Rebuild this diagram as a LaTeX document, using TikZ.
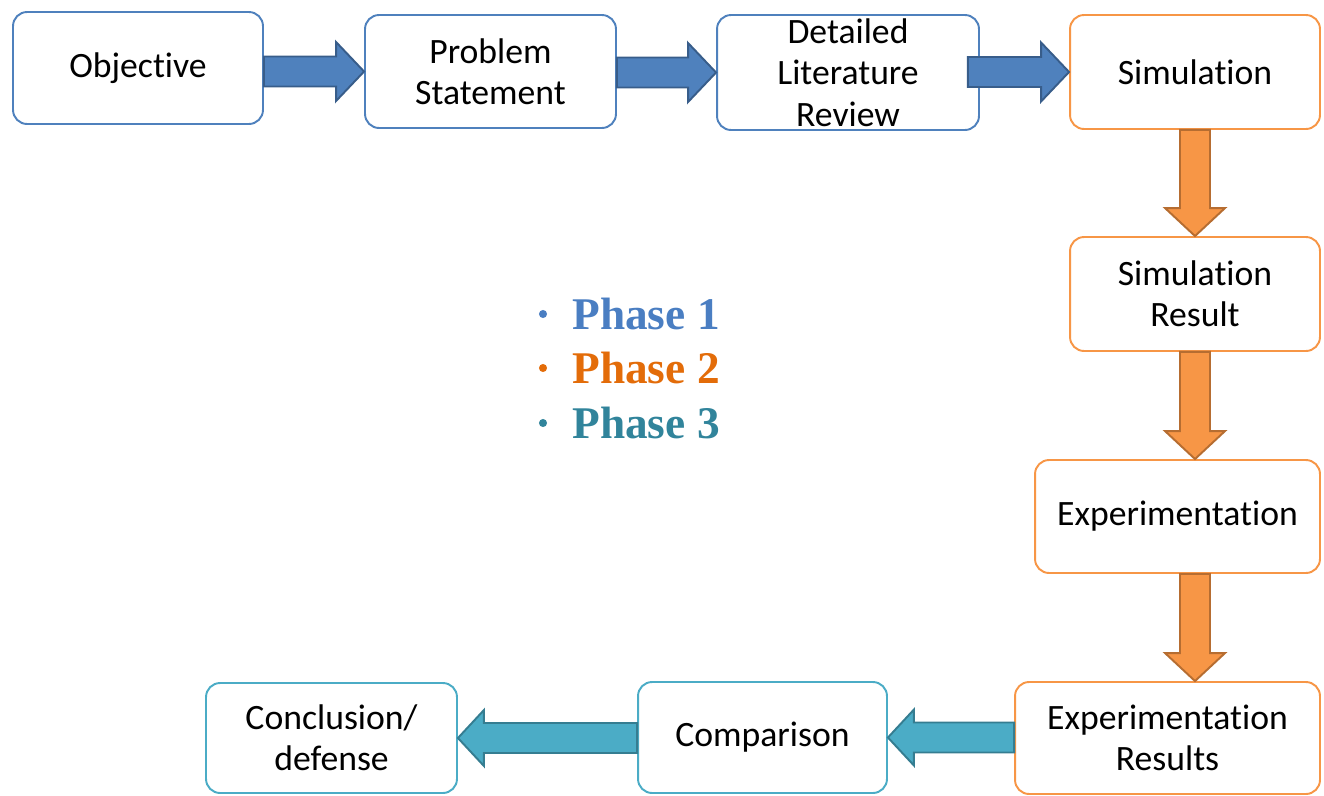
\documentclass[tikz,border=0pt]{standalone}
\usepackage{fontspec}
\setmainfont{Carlito}[Ligatures=NoCommon]
\newfontfamily\phasefont{Liberation Serif}
\usetikzlibrary{calc}
\definecolor{pblue}{HTML}{4F81BD}
\definecolor{pbluedark}{HTML}{385D8A}
\definecolor{porange}{HTML}{F79646}
\definecolor{porangedark}{HTML}{B66D31}
\definecolor{pteal}{HTML}{4BACC6}
\definecolor{ptealdark}{HTML}{357D91}
\definecolor{phaseone}{HTML}{4A7EC2}
\definecolor{phasetwo}{HTML}{E36C09}
\definecolor{phasethree}{HTML}{31849B}

\begin{document}
\begin{tikzpicture}[x=0.02cm,y=-0.02cm,
    box/.style={draw, rounded corners=8pt, line width=1.1pt, fill=white, align=center, inner sep=0pt,
        font=\fontsize{20.3}{23.5}\selectfont},
    boxB/.style={box, draw=pblue},
    boxO/.style={box, draw=porange},
    boxT/.style={box, draw=pteal},
    arrowB/.style={fill=pblue, draw=pbluedark, line width=1.1pt},
    arrowO/.style={fill=porange, draw=porangedark, line width=1.1pt},
    arrowT/.style={fill=pteal, draw=ptealdark, line width=1.1pt},
    phase/.style={anchor=base west, inner sep=0pt, font=\phasefont\bfseries\fontsize{25.8}{30}\selectfont}]
\useasboundingbox (0,0) rectangle (1324,795);

\node[boxB, minimum width=5cm, minimum height=2.24cm] (obj) at (138,68) {Objective};
\node[boxB, minimum width=5.02cm, minimum height=2.26cm] (prob) at (490.5,71.5) {Problem\\Statement};
\node[boxB, minimum width=5.24cm, minimum height=2.3cm] (lit) at (848,72.5) {Detailed\\Literature\\Review};
\node[boxO, minimum width=5cm, minimum height=2.28cm] (sim) at (1195,72) {Simulation};
\node[boxO, minimum width=5cm, minimum height=2.28cm] (simres) at (1195,294) {Simulation\\Result};
\node[boxO, minimum width=5.7cm, minimum height=2.26cm] (exper) at (1177.5,516.5) {Experimentation};
\node[boxO, minimum width=6.1cm, minimum height=2.24cm] (expres) at (1167.5,738) {Experimentation\\Results};
\node[boxT, minimum width=4.98cm, minimum height=2.22cm] (comp) at (762.5,737.5) {Comparison};
\node[boxT, minimum width=5.02cm, minimum height=2.2cm] (concl) at (331.5,738) {Conclusion/\\defense};

\foreach \a/\b/\s in {obj/prob/0, prob/lit/0, lit/sim/12}
  \draw[arrowB] ($(\a.east |- \b.west)+(-\s,-15)$) -- ($(\b.west)+(-28,-15)$) -- ($(\b.west)+(-28,-29.5)$)
    -- (\b.west) -- ($(\b.west)+(-28,29.5)$) -- ($(\b.west)+(-28,15)$) -- ($(\a.east |- \b.west)+(-\s,15)$) -- cycle;
\foreach \a/\b in {sim/simres, simres/exper, exper/expres}
  \draw[arrowO] ($(sim.center |- \a.south)+(-15,0)$) -- ($(sim.center |- \b.north)+(-15,-28)$) -- ($(sim.center |- \b.north)+(-30,-28)$)
    -- (sim.center |- \b.north) -- ($(sim.center |- \b.north)+(30,-28)$) -- ($(sim.center |- \b.north)+(15,-28)$) -- ($(sim.center |- \a.south)+(15,0)$) -- cycle;
\foreach \a/\b in {expres/comp, comp/concl}
  \draw[arrowT] ($(\a.west |- \b.east)+(0,-15)$) -- ($(\b.east)+(26,-15)$) -- ($(\b.east)+(26,-28)$)
    -- (\b.east) -- ($(\b.east)+(26,28)$) -- ($(\b.east)+(26,15)$) -- ($(\a.west |- \b.east)+(0,15)$) -- cycle;

\node[phase, text=phaseone] (ph1) at (572,329) {Phase 1};
\node[phase, text=phasetwo] (ph2) at (572,383) {Phase 2};
\node[phase, text=phasethree] (ph3) at (572,438) {Phase 3};
\fill[phaseone] ($(ph1.base west)+(-29,-15)$) circle (2.3pt);
\fill[phasetwo] ($(ph2.base west)+(-29,-15)$) circle (2.3pt);
\fill[phasethree] ($(ph3.base west)+(-29,-15)$) circle (2.3pt);
\end{tikzpicture}
\end{document}
